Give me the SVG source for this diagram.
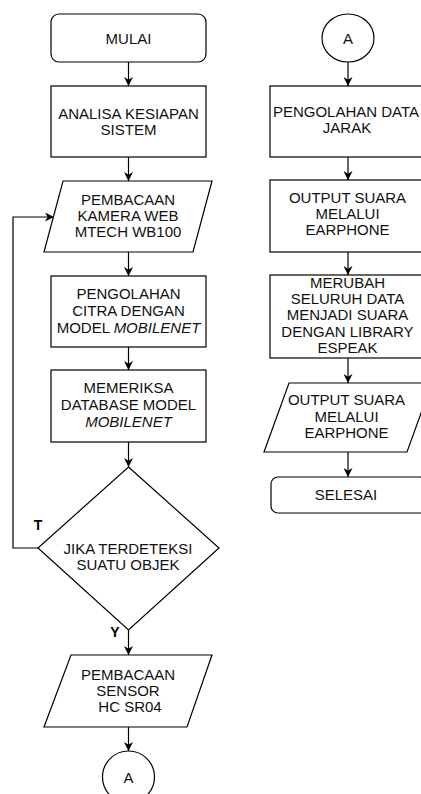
<svg xmlns="http://www.w3.org/2000/svg" width="421" height="794" viewBox="0 0 421 794">
<defs>
<marker id="arr" viewBox="0 0 10 10" markerWidth="9" markerHeight="9" markerUnits="userSpaceOnUse" refX="10" refY="5" orient="auto">
<path d="M0,0 L10,5 L0,10 L3,5 z" fill="#000"/>
</marker>
<style>
.s{fill:#fff;stroke:#000;stroke-width:1.2}
.t{font-family:"Liberation Sans",Arial,sans-serif;font-size:15px;fill:#111;text-anchor:middle}
.i{font-style:italic}
.l{font-family:"Liberation Sans",Arial,sans-serif;font-size:14px;font-weight:bold;fill:#000;text-anchor:middle}
.c{fill:none;stroke:#000;stroke-width:1.2;marker-end:url(#arr)}
</style>
</defs>
<rect width="421" height="794" fill="#fff"/>
<g id="connectors">
<line class="c" x1="128.5" y1="62" x2="128.5" y2="86"/>
<line class="c" x1="128.5" y1="157" x2="128.5" y2="181"/>
<line class="c" x1="128.5" y1="252" x2="128.5" y2="276"/>
<line class="c" x1="128.5" y1="347" x2="128.5" y2="370"/>
<line class="c" x1="128.5" y1="442" x2="128.5" y2="467"/>
<polyline class="c" points="38,548 13,548 13,217 54,217"/>
<line class="c" x1="128.5" y1="630" x2="128.5" y2="655"/>
<line class="c" x1="128.5" y1="727" x2="128.5" y2="751"/>
<line class="c" x1="348" y1="62" x2="348" y2="86"/>
<line class="c" x1="348" y1="157" x2="348" y2="180"/>
<line class="c" x1="348" y1="252" x2="348" y2="275"/>
<line class="c" x1="348" y1="358" x2="348" y2="383"/>
<line class="c" x1="348" y1="452" x2="348" y2="477"/>
<text class="l" x="38" y="530">T</text>
<text class="l" x="115" y="637">Y</text>
</g>
<g id="mulai">
<rect class="s" x="51" y="14" width="155" height="48" rx="8"/>
<text class="t" x="128.5" y="44">MULAI</text>
</g>
<g id="analisa">
<rect class="s" x="51" y="86" width="155" height="71"/>
<text class="t" x="128.5" y="119">ANALISA KESIAPAN</text>
<text class="t" x="128.5" y="135">SISTEM</text>
</g>
<g id="kamera">
<polygon class="s" points="63,181 212,181 193,252 44,252"/>
<text class="t" x="128" y="205">PEMBACAAN</text>
<text class="t" x="128" y="221">KAMERA WEB</text>
<text class="t" x="128" y="237">MTECH WB100</text>
</g>
<g id="pengolahan-citra">
<rect class="s" x="51" y="276" width="155" height="71"/>
<text class="t" x="128.5" y="299">PENGOLAHAN</text>
<text class="t" x="128.5" y="316">CITRA DENGAN</text>
<text class="t" x="128.5" y="333">MODEL <tspan class="i">MOBILENET</tspan></text>
</g>
<g id="memeriksa">
<rect class="s" x="51" y="370" width="155" height="72"/>
<text class="t" x="128.5" y="393">MEMERIKSA</text>
<text class="t" x="128.5" y="410">DATABASE MODEL</text>
<text class="t" x="128.5" y="427" font-style="italic">MOBILENET</text>
</g>
<g id="keputusan">
<polygon class="s" points="128.5,467 219,548 128.5,630 38,548"/>
<text class="t" x="128" y="554">JIKA TERDETEKSI</text>
<text class="t" x="128" y="570">SUATU OBJEK</text>
</g>
<g id="sensor">
<polygon class="s" points="71,655 212,655 187,727 44,727"/>
<text class="t" x="128" y="680">PEMBACAAN</text>
<text class="t" x="128" y="696">SENSOR</text>
<text class="t" x="130" y="712">HC SR04</text>
</g>
<g id="konektor-a1">
<circle class="s" cx="128.5" cy="777" r="26"/>
<text class="t" x="128.5" y="783">A</text>
</g>
<g id="konektor-a2">
<ellipse class="s" cx="348" cy="38" rx="26" ry="24"/>
<text class="t" x="348" y="44">A</text>
</g>
<g id="pengolahan-jarak">
<rect class="s" x="270" y="86" width="156" height="71"/>
<text class="t" x="346" y="117">PENGOLAHAN DATA</text>
<text class="t" x="347" y="133">JARAK</text>
</g>
<g id="output1">
<rect class="s" x="270" y="180" width="156" height="72"/>
<text class="t" x="347.5" y="203">OUTPUT SUARA</text>
<text class="t" x="347.5" y="219">MELALUI</text>
<text class="t" x="347.5" y="235">EARPHONE</text>
</g>
<g id="merubah">
<rect class="s" x="270" y="275" width="156" height="83"/>
<text class="t" x="347.5" y="288">MERUBAH</text>
<text class="t" x="347.5" y="304">SELURUH DATA</text>
<text class="t" x="347.5" y="320">MENJADI SUARA</text>
<text class="t" x="347.5" y="337">DENGAN LIBRARY</text>
<text class="t" x="347.5" y="353">ESPEAK</text>
</g>
<g id="output2">
<polygon class="s" points="289,383 432,383 407,452 264,452"/>
<text class="t" x="346.5" y="405">OUTPUT SUARA</text>
<text class="t" x="346.5" y="422">MELALUI</text>
<text class="t" x="346.5" y="438">EARPHONE</text>
</g>
<g id="selesai">
<rect class="s" x="271" y="477" width="156" height="36" rx="7"/>
<text class="t" x="346" y="500">SELESAI</text>
</g>
</svg>
